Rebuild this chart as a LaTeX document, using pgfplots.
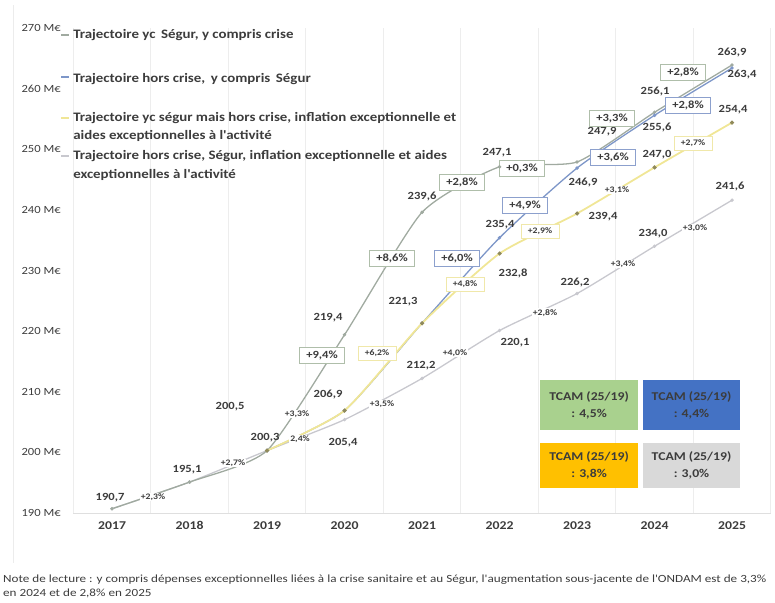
\documentclass[border=0pt]{standalone}
\usepackage{fontspec}
\setmainfont{Carlito}
\newfontfamily\widefont{Carlito}[FakeStretch=1.15]
\newfontfamily\notefont{Carlito}[FakeStretch=1.2]
\usepackage{pgfplots}
\pgfplotsset{compat=1.18}
\definecolor{cgreen}{RGB}{160,170,160}
\definecolor{cblue}{RGB}{125,150,200}
\definecolor{cyellow}{RGB}{240,230,150}
\definecolor{cgray}{RGB}{200,200,206}
\definecolor{bgreen}{RGB}{175,190,170}
\definecolor{bblue}{RGB}{140,160,205}
\definecolor{byellow}{RGB}{240,232,170}
\definecolor{txt}{RGB}{60,60,60}
\definecolor{tgreen}{RGB}{169,209,142}
\definecolor{tblue}{RGB}{68,114,196}
\definecolor{tyellow}{RGB}{255,192,0}
\definecolor{tgray}{RGB}{217,217,217}
\newcommand{\lab}[4][]{\node[vlab,#1] at (axis cs:{2017+(#2-112)/77.5},{190+(513-#3)/6.0625}) {#4};}
\newcommand{\legtext}[2]{\node[anchor=west, inner sep=0pt, font=\widefont\bfseries\fontsize{13}{15}\selectfont, text=txt] at (axis cs:{2017+(73-112)/77.5},{190+(513-#1)/6.0625}) {#2};}
\newcommand{\legline}[2]{\draw[#2, line width=1.8pt] (axis cs:{2017+(61-112)/77.5},{190+(513-#1)/6.0625}) -- (axis cs:{2017+(69-112)/77.5},{190+(513-#1)/6.0625});}
\begin{document}
\begin{tikzpicture}[x=1bp,y=1bp,
  vlab/.style={font=\widefont\bfseries\fontsize{11}{13}\selectfont, text=txt, inner sep=1bp},
  pg/.style={draw=bgreen, fill=white, line width=0.7pt, inner xsep=7bp, inner ysep=3.5bp},
  pb/.style={draw=bblue, fill=white, line width=0.7pt, inner xsep=7bp, inner ysep=3.5bp},
  py/.style={draw=byellow, fill=white, line width=0.7pt, inner xsep=7bp, inner ysep=3.5bp, font=\widefont\bfseries\fontsize{8.5}{10}\selectfont},
  ps/.style={font=\widefont\bfseries\fontsize{8.5}{10}\selectfont, fill=white, inner sep=1bp}]
\path[use as bounding box] (0bp,0bp) rectangle (775bp,603bp);
\draw[gray!15, line width=0.6pt] (13bp,40bp) -- (13bp,598bp);
\begin{axis}[at={(73.3bp,90bp)}, anchor=south west, scale only axis,
  width=697.5bp, height=485bp,
  xmin=2016.5, xmax=2025.5, ymin=190, ymax=270, clip=false,
  axis line style={draw=none}, major tick length=0pt, minor tick length=0pt,
  xtick={2017,2018,2019,2020,2021,2022,2023,2024,2025},
  xticklabels={2017,2018,2019,2020,2021,2022,2023,2024,2025},
  ytick={190,200,210,220,230,240,250,260,270},
  yticklabels={190 M€,200 M€,210 M€,220 M€,230 M€,240 M€,250 M€,260 M€,270 M€},
  xticklabel style={font=\widefont\bfseries\fontsize{12}{14}\selectfont, text=txt, yshift=-5bp},
  yticklabel style={font=\widefont\fontsize{11}{13}\selectfont, text=txt, xshift=-9bp},
  minor xtick={2016.5,2017.5,2018.5,2019.5,2020.5,2021.5,2022.5,2023.5,2024.5,2025.5},
  xminorgrids=true, minor x grid style={gray!14, line width=0.7pt},
]
\draw[gray!25, line width=0.6pt] (rel axis cs:0,0) -- (rel axis cs:1,0);
% TCAM boxes
\node[fill=tgreen, minimum width=98bp, minimum height=50bp, inner sep=0pt, align=center, font=\widefont\bfseries\fontsize{12}{17}\selectfont, text=txt] at (axis cs:{2017+(589-112)/77.5},{190+(513-405)/6.0625}) {TCAM (25/19)\\: 4,5\%};
\node[fill=tblue, minimum width=97bp, minimum height=50bp, inner sep=0pt, align=center, font=\widefont\bfseries\fontsize{12}{17}\selectfont, text=txt] at (axis cs:{2017+(691.5-112)/77.5},{190+(513-405)/6.0625}) {TCAM (25/19)\\: 4,4\%};
\node[fill=tyellow, minimum width=98bp, minimum height=45bp, inner sep=0pt, align=center, font=\widefont\bfseries\fontsize{12}{17}\selectfont, text=txt] at (axis cs:{2017+(589-112)/77.5},{190+(513-465.5)/6.0625}) {TCAM (25/19)\\: 3,8\%};
\node[fill=tgray, minimum width=97bp, minimum height=45bp, inner sep=0pt, align=center, font=\widefont\bfseries\fontsize{12}{17}\selectfont, text=txt] at (axis cs:{2017+(691.5-112)/77.5},{190+(513-465.5)/6.0625}) {TCAM (25/19)\\: 3,0\%};

\addplot[color=cgray, line width=1.3pt, smooth, tension=0.35, mark=*, mark size=1pt] coordinates {(2017,190.7)(2018,195.1)(2019,200.3)(2020,205.4)(2021,212.2)(2022,220.1)(2023,226.2)(2024,234.0)(2025,241.6)};
\addplot[color=cgreen, line width=1.3pt, smooth, tension=0.35, mark=*, mark size=1pt] coordinates {(2017,190.7)(2018,195.1)(2019,200.3)(2020,219.4)(2021,239.6)(2022,247.1)(2023,247.9)(2024,256.1)(2025,263.9)};
\addplot[color=cblue, line width=1.3pt, smooth, tension=0.35, mark=*, mark size=1pt] coordinates {(2019,200.3)(2020,206.9)(2021,221.3)(2022,235.4)(2023,246.9)(2024,255.6)(2025,263.4)};
\addplot[color=cyellow, line width=1.8pt, smooth, tension=0.35, mark=*, mark size=1pt, mark options={fill=cyellow!60!black, draw=cyellow!60!black}] coordinates {(2019,200.3)(2020,206.9)(2021,221.3)(2022,232.8)(2023,239.4)(2024,247.0)(2025,254.4)};

% legend
\legline{35}{cgreen}
\legtext{35}{Trajectoire yc\, Ségur, y compris crise}
\legline{77}{cblue}
\legtext{79}{Trajectoire hors crise,\, y compris\, Ségur}
\legline{118}{cyellow}
\legtext{118}{Trajectoire yc ségur mais hors crise, inflation exceptionnelle et}
\legtext{136}{aides exceptionnelles à l'activité}
\legline{156}{cgray}
\legtext{156}{Trajectoire hors crise, Ségur, inflation exceptionnelle et aides}
\legtext{175}{exceptionnelles à l'activité}

% value labels
\lab{110}{498}{190,7}
\lab{187}{470}{195,1}
\lab{230}{407}{200,5}
\lab{265}{438}{200,3}
\lab{328}{318}{219,4}
\lab{328}{395}{206,9}
\lab{343}{443}{205,4}
\lab{403}{302}{221,3}
\lab{421}{366}{212,2}
\lab{422}{197}{239,6}
\lab{497}{153}{247,1}
\lab{500}{225}{235,4}
\lab{513}{273}{232,8}
\lab{515}{343}{220,1}
\lab{575}{283}{226,2}
\lab{583}{183}{246,9}
\lab{602}{132}{247,9}
\lab{603}{217}{239,4}
\lab{653}{234}{234,0}
\lab{655}{92}{256,1}
\lab{657}{128}{255,6}
\lab{657}{155}{247,0}
\lab{730}{187}{241,6}
\lab{732}{53}{263,9}
\lab{733}{110}{254,4}
\lab{742}{75}{263,4}
% green boxes
\lab[pg]{322}{355}{+9,4\%}
\lab[pg]{392}{258}{+8,6\%}
\lab[pg]{462}{182}{+2,8\%}
\lab[pg]{522}{168}{+0,3\%}
\lab[pg]{612}{118}{+3,3\%}
\lab[pg]{683}{72}{+2,8\%}
% blue boxes
\lab[pb]{457}{258}{+6,0\%}
\lab[pb]{525}{205}{+4,9\%}
\lab[pb]{613}{157}{+3,6\%}
\lab[pb]{688}{105}{+2,8\%}
% yellow boxes
\lab[py]{377}{353}{+6,2\%}
\lab[py]{465}{284}{+4,8\%}
\lab[py]{540}{231}{+2,9\%}
\lab[py]{693}{143}{+2,7\%}
\lab[ps]{617}{190}{+3,1\%}
\lab[ps]{297}{414}{+3,3\%}
% gray small
\lab[ps]{153}{497}{+2,3\%}
\lab[ps]{233}{463}{+2,7\%}
\lab[ps]{300}{439}{2,4\%}
\lab[ps]{382}{404}{+3,5\%}
\lab[ps]{455}{353}{+4,0\%}
\lab[ps]{545}{313}{+2,8\%}
\lab[ps]{623}{264}{+3,4\%}
\lab[ps]{695}{228}{+3,0\%}
\end{axis}
\node[anchor=north west, align=left, inner sep=0pt, font=\notefont\fontsize{11}{14}\selectfont, text=txt] at (3bp,28bp) {Note de lecture : y compris dépenses exceptionnelles liées à la crise sanitaire et au Ségur, l'augmentation sous-jacente de l'ONDAM est de 3,3\%\\en 2024 et de 2,8\% en 2025};
\end{tikzpicture}
\end{document}
